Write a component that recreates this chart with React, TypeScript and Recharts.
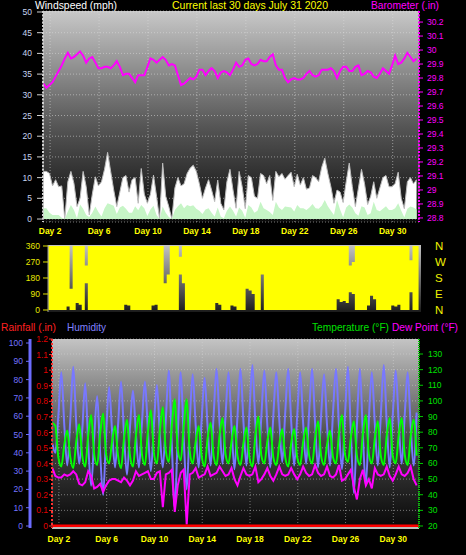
import React from "react";
import { ComposedChart, Area, Line, XAxis, YAxis, CartesianGrid } from "recharts";

// samples every 6 hours, starting Jul 1 ~11:00
const START = 1.45;
const STEP = 0.25;

const dayTicks = [2, 6, 10, 14, 18, 22, 26, 30];
const windTicks = [0, 5, 10, 15, 20, 25, 30, 35, 40, 45, 50];
const baroTicks = [28.8, 28.9, 29, 29.1, 29.2, 29.3, 29.4, 29.5, 29.6, 29.7, 29.8, 29.9, 30, 30.1, 30.2];
const dirTicks = [0, 90, 180, 270, 360];
const dirLetters = ["N", "E", "S", "W", "N"];
const humTicks = [0, 10, 20, 30, 40, 50, 60, 70, 80, 90, 100];
const rainTicks = [0, 0.1, 0.2, 0.3, 0.4, 0.5, 0.6, 0.7, 0.8, 0.9, 1, 1.1, 1.2];
const tempTicks = [20, 30, 40, 50, 60, 70, 80, 90, 100, 110, 120, 130];

const baro = [
  29.76, 29.73, 29.75, 29.77, 29.81, 29.85, 29.89, 29.94, 29.98, 29.94,
  29.95, 29.97, 29.99, 29.96, 29.91, 29.94, 29.95, 29.91, 29.87, 29.87,
  29.88, 29.88, 29.87, 29.89, 29.92, 29.88, 29.82, 29.83, 29.83, 29.8,
  29.77, 29.82, 29.82, 29.82, 29.88, 29.94, 29.93, 29.91, 29.93, 29.95,
  29.93, 29.89, 29.9, 29.89, 29.82, 29.75, 29.76, 29.78, 29.8, 29.79,
  29.81, 29.86, 29.86, 29.82, 29.85, 29.87, 29.85, 29.8, 29.84, 29.85,
  29.84, 29.82, 29.86, 29.91, 29.88, 29.89, 29.93, 29.94, 29.9, 29.89,
  29.9, 29.93, 29.92, 29.92, 29.95, 29.97, 29.89, 29.86, 29.86, 29.8,
  29.77, 29.79, 29.8, 29.79, 29.79, 29.8, 29.83, 29.85, 29.82, 29.81,
  29.82, 29.86, 29.86, 29.86, 29.87, 29.85, 29.8, 29.85, 29.88, 29.88,
  29.85, 29.85, 29.88, 29.89, 29.82, 29.83, 29.85, 29.84, 29.81, 29.8,
  29.83, 29.87, 29.85, 29.83, 29.89, 29.96, 29.9, 29.91, 29.94, 29.98,
  29.95, 29.92, 29.94,
];

const windGust = [
  11.5, 11.5, 11.0, 8.0, 9.5, 7.8, 8.0, 0, 9.0, 11.5,
  8.6, 3.0, 5.0, 11.5, 7.8, 1.0, 6.0, 10.2, 8.0, 9.0,
  12.0, 16.1, 11.5, 7.0, 3.0, 6.5, 10.0, 10.5, 6.5, 9.5,
  10.0, 3.8, 12.2, 6.0, 3.8, 6.0, 10.6, 5.5, 0, 13.5,
  5.5, 3.0, 0, 7.5, 10.0, 8.0, 8.5, 11.0, 12.3, 13.0,
  11.5, 8.5, 5.0, 7.5, 9.5, 7.0, 4.2, 9.4, 3.8, 2.2,
  9.0, 12.0, 7.0, 2.6, 11.5, 7.8, 2.5, 10.5, 10.0, 5.5,
  5.0, 11.0, 10.5, 8.5, 10.5, 4.5, 11.5, 10.2, 11.0, 9.6,
  10.5, 11.3, 7.8, 10.8, 8.2, 10.0, 7.2, 7.5, 10.5, 10.0,
  9.0, 12.5, 14.7, 11.0, 7.8, 3.8, 7.0, 6.5, 4.0, 9.0,
  13.5, 7.8, 3.0, 7.5, 12.0, 8.5, 3.5, 5.5, 9.0, 5.0,
  7.5, 10.0, 10.5, 7.8, 7.8, 8.6, 11.3, 5.0, 2.5, 9.0,
  10.0, 8.5, 9.5,
];

const windAvg = [
  2.6, 2.6, 1.5, 1.0, 1.0, 1.0, 0.3, 0, 1.8, 3.4,
  2.2, 0.2, 3.5, 2.5, 1.0, 0.5, 1.5, 3.0, 1.7, 0.6,
  2.6, 3.8, 3.5, 3.2, 1.2, 2.8, 3.2, 2.5, 1.5, 1.5,
  3.1, 2.1, 3.4, 2.6, 0.7, 2.3, 3.2, 1.0, 0, 3.0,
  1.5, 0.5, 0, 2.2, 3.1, 3.8, 2.6, 3.4, 3.1, 3.3,
  2.5, 2.0, 1.2, 2.3, 2.6, 1.5, 0.6, 2.8, 0.6, 0.2,
  2.0, 3.0, 2.0, 0.6, 2.8, 2.0, 0.3, 3.4, 2.8, 1.5,
  2.0, 4.2, 2.6, 2.2, 1.7, 1.0, 4.2, 2.8, 2.2, 3.0,
  2.9, 2.8, 1.8, 3.4, 2.6, 2.6, 2.2, 2.8, 3.6, 2.6,
  2.5, 3.2, 4.6, 3.1, 2.0, 1.0, 4.6, 2.3, 0.4, 2.8,
  3.5, 2.8, 1.4, 0.8, 3.1, 2.8, 1.0, 1.4, 4.2, 2.2,
  1.9, 2.5, 3.1, 2.2, 2.2, 2.6, 3.8, 2.0, 0.4, 2.5,
  3.0, 2.8, 2.3,
];

// spread of wind direction readings in each 6 h slot
const dirLow = [
  0, 0, 0, 0, 0, 0, 20, 0, 0, 40,
  30, 0, 150, 0, 0, 0, 0, 0, 0, 0,
  0, 0, 0, 0, 0, 30, 25, 0, 0, 0,
  0, 0, 0, 0, 25, 30, 0, 0, 0, 0,
  0, 0, 0, 200, 150, 0, 0, 0, 0, 0,
  0, 0, 0, 0, 0, 40, 30, 0, 0, 0,
  25, 20, 0, 0, 0, 120, 110, 90, 0, 0,
  200, 0, 0, 0, 0, 0, 0, 0, 0, 0,
  0, 0, 0, 0, 0, 0, 0, 0, 0, 0,
  0, 0, 0, 0, 0, 60, 45, 50, 40, 100,
  90, 0, 0, 0, 0, 25, 80, 60, 0, 0,
  0, 0, 0, 25, 20, 30, 0, 0, 0, 100,
  0, 0, 0,
];
const dirHigh = [
  360, 360, 360, 360, 360, 360, 360, 120, 360, 360,
  360, 360, 250, 360, 360, 360, 360, 360, 360, 360,
  360, 360, 360, 360, 360, 360, 360, 360, 360, 360,
  360, 360, 360, 360, 360, 360, 360, 360, 150, 200,
  360, 360, 360, 300, 360, 360, 360, 360, 360, 360,
  360, 360, 360, 360, 360, 360, 360, 360, 360, 360,
  360, 360, 360, 360, 360, 360, 360, 360, 360, 360,
  360, 360, 360, 360, 360, 360, 360, 360, 360, 360,
  360, 360, 360, 360, 360, 360, 360, 360, 360, 360,
  360, 360, 360, 360, 360, 360, 360, 360, 360, 250,
  270, 360, 360, 360, 360, 360, 360, 360, 360, 360,
  360, 360, 360, 360, 360, 360, 360, 360, 360, 280,
  360, 360, 360,
];

const humidity = [
  45, 40, 60, 84, 55, 33, 58, 87, 56, 34,
  52, 78, 45, 22, 48, 71, 40, 17, 50, 76,
  52, 32, 55, 79, 50, 28, 54, 74, 50, 32,
  56, 79, 52, 30, 55, 77, 50, 32, 58, 85,
  45, 10, 50, 84, 48, 20, 56, 83, 55, 32,
  58, 81, 54, 33, 60, 86, 56, 34, 60, 84,
  55, 31, 60, 86, 57, 33, 62, 88, 56, 34,
  60, 85, 55, 32, 60, 84, 58, 35, 62, 86,
  57, 33, 60, 84, 56, 34, 62, 86, 56, 32,
  60, 83, 55, 33, 62, 86, 54, 31, 60, 87,
  50, 18, 55, 86, 50, 22, 58, 84, 56, 33,
  60, 88, 56, 32, 60, 85, 57, 34, 60, 84,
  55, 33, 62,
];

const temperature = [
  86, 84, 64, 58, 72, 81, 64, 57, 74, 85,
  65, 58, 78, 91, 66, 59, 79, 92, 66, 60,
  74, 84, 65, 57, 76, 88, 65, 58, 78, 91,
  66, 59, 80, 94, 67, 60, 81, 96, 68, 61,
  84, 101, 69, 62, 84, 101, 68, 60, 74, 84,
  65, 58, 76, 86, 65, 59, 78, 89, 66, 60,
  74, 84, 65, 59, 73, 83, 64, 58, 78, 90,
  65, 60, 74, 83, 64, 59, 72, 82, 64, 58,
  73, 82, 64, 59, 74, 83, 65, 60, 76, 87,
  65, 59, 72, 81, 64, 60, 79, 91, 66, 61,
  77, 87, 65, 59, 79, 91, 66, 60, 76, 87,
  65, 59, 78, 89, 65, 60, 78, 89, 66, 59,
  77, 88, 65,
];

const dewPoint = [
  57, 52, 51, 51, 53, 52, 53, 55, 53, 47,
  46, 48, 55, 52, 44, 45, 47, 42, 46, 49,
  50, 50, 49, 48, 51, 49, 46, 49, 55, 52,
  53, 54, 55, 50, 50, 54, 55, 32, 53, 54,
  56, 29, 46, 54, 56, 21, 53, 54, 57, 51,
  52, 53, 58, 52, 53, 54, 58, 55, 52, 53,
  57, 50, 46, 52, 57, 53, 52, 53, 58, 48,
  50, 53, 57, 52, 49, 53, 58, 53, 52, 53,
  57, 53, 50, 53, 58, 54, 52, 53, 59, 54,
  52, 53, 58, 52, 51, 53, 59, 49, 50, 53,
  56, 45, 37, 50, 56, 46, 50, 44, 57, 53,
  52, 53, 58, 52, 49, 53, 58, 53, 52, 54,
  58, 50, 46,
];

// daily rain totals, Jul 1 .. Aug 1
const rainfall = [
  0, 0, 0, 0, 0, 0, 0, 0, 0, 0, 0, 0, 0, 0, 0, 0,
  0, 0, 0, 0, 0, 0, 0, 0, 0, 0, 0, 0, 0, 0, 0, 0,
];

const topRows = baro.map((b, i) => ({
  t: START + STEP * i,
  baro: b,
  gust: windGust[i],
  avg: windAvg[i],
}));
const dirRows = dirLow.map((lo, i) => ({ t: START + STEP * i, dir: [lo, dirHigh[i]] }));
const bottomRows = humidity.map((h, i) => ({
  t: START + STEP * i,
  hum: h,
  temp: temperature[i],
  dew: dewPoint[i],
}));
const rainRows = rainfall.map((r, i) => ({ t: START + i, rain: r }));

const X_DOMAIN: [number, number] = [1.42, 32.15];
const FONT = "'Liberation Sans', Arial, sans-serif";
const dayTick = { fill: "#ffff00", fontSize: 8.5, fontFamily: FONT, fontWeight: "bold" as const };
const fmt1 = (v: number) => String(Math.round(v * 10) / 10);

// ids sorted so the rain axis sits next to the plot and humidity outside it
const RAIN_AXIS = "l1rain";
const HUM_AXIS = "l2hum";

export default function App() {
  return (
    <div
      style={{
        position: "fixed",
        left: 0,
        top: 0,
        width: 466,
        height: 555,
        background: "#000",
        overflow: "hidden",
      }}
    >
      {/* wind + barometer */}
      <div style={{ position: "absolute", left: 0, top: 0 }}>
        <ComposedChart width={466} height={245} data={topRows} margin={{ top: 11, right: 0, bottom: 0, left: 0 }}>
          <defs>
            <linearGradient id="bgTop" x1="0" y1="0" x2="0" y2="1">
              <stop offset="0%" stopColor="#c8c8c8" />
              <stop offset="55%" stopColor="#555555" />
              <stop offset="100%" stopColor="#0a0a0a" />
            </linearGradient>
          </defs>
          <CartesianGrid
            yAxisId="wind"
            fill="url(#bgTop)"
            fillOpacity={1}
            stroke="#dcdcdc"
            strokeOpacity={0.55}
            strokeDasharray="1 2"
          />
          <XAxis
            type="number"
            dataKey="t"
            domain={X_DOMAIN}
            ticks={dayTicks}
            interval={0}
            allowDataOverflow
            height={23}
            tickSize={0}
            tickMargin={6}
            axisLine={false}
            tick={dayTick}
            tickFormatter={(d) => `Day ${d}`}
          />
          <YAxis
            yAxisId="wind"
            domain={[-0.72, 50.24]}
            ticks={windTicks}
            interval={0}
            allowDataOverflow
            width={43}
            tickSize={6}
            tickMargin={5}
            axisLine={{ stroke: "#d0d0d0", strokeWidth: 2, strokeDasharray: "2 1.5" }}
            tickLine={{ stroke: "#d0d0d0" }}
            tick={{ fill: "#c8d4f0", fontSize: 8.5, fontFamily: FONT }}
          />
          <YAxis
            yAxisId="baro"
            orientation="right"
            domain={[28.771, 30.279]}
            ticks={baroTicks}
            interval={0}
            allowDataOverflow
            width={47}
            tickSize={4}
            tickMargin={4}
            axisLine={{ stroke: "#ff00ff", strokeWidth: 2, strokeDasharray: "2 1.5" }}
            tickLine={{ stroke: "#ff00ff" }}
            tick={{ fill: "#ff00ff", fontSize: 8.5, fontFamily: FONT }}
            tickFormatter={fmt1}
          />
          <Area
            yAxisId="wind"
            type="linear"
            dataKey="gust"
            fill="#ffffff"
            fillOpacity={1}
            stroke="#bdbdbd"
            strokeWidth={1}
            isAnimationActive={false}
          />
          <Area
            yAxisId="wind"
            type="linear"
            dataKey="avg"
            fill="#c6f5c6"
            fillOpacity={1}
            stroke="none"
            isAnimationActive={false}
          />
          <Line
            yAxisId="baro"
            type="linear"
            dataKey="baro"
            stroke="#ff00ff"
            strokeWidth={2}
            dot={false}
            isAnimationActive={false}
          />
        </ComposedChart>
      </div>

      {/* wind direction */}
      <div style={{ position: "absolute", left: 0, top: 240 }}>
        <ComposedChart width={466} height={82} data={dirRows} margin={{ top: 5, right: 0, bottom: 10, left: 0 }}>
          <defs>
            <linearGradient id="bgDir" x1="0" y1="0" x2="0" y2="1">
              <stop offset="0%" stopColor="#c4c4c4" />
              <stop offset="100%" stopColor="#1c1c1c" />
            </linearGradient>
          </defs>
          <CartesianGrid yAxisId="dir" fill="url(#bgDir)" fillOpacity={1} horizontal={false} vertical={false} />
          <XAxis type="number" dataKey="t" domain={X_DOMAIN} allowDataOverflow hide />
          <YAxis
            yAxisId="dir"
            domain={[-11.25, 365.6]}
            ticks={dirTicks}
            interval={0}
            allowDataOverflow
            width={48}
            tickSize={5}
            tickMargin={3}
            axisLine={{ stroke: "#9a9a9a" }}
            tickLine={{ stroke: "#e0e000" }}
            tick={{ fill: "#e8e800", fontSize: 8.5, fontFamily: FONT }}
          />
          <YAxis
            yAxisId="dirR"
            orientation="right"
            domain={[-11.25, 365.6]}
            ticks={dirTicks}
            interval={0}
            allowDataOverflow
            width={45}
            tickSize={0}
            tickMargin={14}
            axisLine={false}
            tick={{ fill: "#f0f000", fontSize: 11.5, fontFamily: FONT }}
            tickFormatter={(v) => dirLetters[dirTicks.indexOf(v)]}
          />
          <Area
            yAxisId="dir"
            type="stepAfter"
            dataKey="dir"
            fill="#ffff00"
            fillOpacity={1}
            stroke="none"
            isAnimationActive={false}
          />
        </ComposedChart>
      </div>

      {/* rain, humidity, temperature, dew point */}
      <div style={{ position: "absolute", left: 0, top: 330 }}>
        <ComposedChart width={466} height={223} data={bottomRows} margin={{ top: 9, right: 0, bottom: 0, left: 0 }}>
          <defs>
            <linearGradient id="bgBot" x1="0" y1="0" x2="0" y2="1">
              <stop offset="0%" stopColor="#c4c4c4" />
              <stop offset="55%" stopColor="#444444" />
              <stop offset="100%" stopColor="#080808" />
            </linearGradient>
          </defs>
          <CartesianGrid
            yAxisId="temp"
            fill="url(#bgBot)"
            fillOpacity={1}
            stroke="#d8d8d8"
            strokeOpacity={0.5}
            strokeDasharray="1 2"
          />
          <XAxis
            type="number"
            dataKey="t"
            domain={X_DOMAIN}
            ticks={dayTicks}
            interval={0}
            allowDataOverflow
            height={25}
            tickSize={0}
            tickMargin={8}
            axisLine={{ stroke: "#bdbdbd", strokeWidth: 2 }}
            tick={dayTick}
            tickFormatter={(d) => `Day ${d}`}
          />
          <YAxis
            yAxisId={RAIN_AXIS}
            domain={[-0.0128, 1.2]}
            ticks={rainTicks}
            interval={0}
            allowDataOverflow
            width={22}
            tickSize={3}
            tickMargin={1}
            axisLine={{ stroke: "#ff3030", strokeWidth: 2, strokeDasharray: "2 2" }}
            tickLine={{ stroke: "#ff3030" }}
            tick={{ fill: "#e00000", fontSize: 8.5, fontFamily: FONT }}
            tickFormatter={fmt1}
          />
          <YAxis
            yAxisId={HUM_AXIS}
            domain={[-1.09, 102.2]}
            ticks={humTicks}
            interval={0}
            allowDataOverflow
            width={30}
            tickSize={4}
            tickMargin={3}
            axisLine={{ stroke: "#6c6cff", strokeWidth: 3 }}
            tickLine={{ stroke: "#6c6cff" }}
            tick={{ fill: "#7474ff", fontSize: 8.5, fontFamily: FONT }}
          />
          <YAxis
            yAxisId="temp"
            orientation="right"
            domain={[18.72, 139.6]}
            ticks={tempTicks}
            interval={0}
            allowDataOverflow
            width={47}
            tickSize={4}
            tickMargin={5}
            axisLine={{ stroke: "#00c800", strokeWidth: 2, strokeDasharray: "1 1" }}
            tickLine={{ stroke: "#00c800" }}
            tick={{ fill: "#00e000", fontSize: 8.5, fontFamily: FONT }}
          />
          <Line
            yAxisId={HUM_AXIS}
            type="monotone"
            dataKey="hum"
            stroke="#7878ff"
            strokeWidth={2}
            dot={false}
            isAnimationActive={false}
          />
          <Line
            yAxisId="temp"
            type="monotone"
            dataKey="temp"
            stroke="#00ff00"
            strokeWidth={2}
            dot={false}
            isAnimationActive={false}
          />
          <Line
            yAxisId="temp"
            type="linear"
            dataKey="dew"
            stroke="#ff00ff"
            strokeWidth={2}
            dot={false}
            isAnimationActive={false}
          />
          <Line
            yAxisId={RAIN_AXIS}
            data={rainRows}
            type="linear"
            dataKey="rain"
            stroke="#ff0000"
            strokeWidth={3}
            dot={false}
            isAnimationActive={false}
          />
        </ComposedChart>
      </div>

      {/* titles and legend text */}
      <svg
        width={466}
        height={555}
        style={{ position: "absolute", left: 0, top: 0, pointerEvents: "none" }}
        fontFamily={FONT}
        fontSize={11.5}
      >
        <text x={35} y={9} fill="#ffffff" textLength={82} lengthAdjust="spacingAndGlyphs">
          Windspeed (mph)
        </text>
        <text x={172} y={9} fill="#ffff00" textLength={156} lengthAdjust="spacingAndGlyphs">
          Current last 30 days July 31 2020
        </text>
        <text x={371} y={9} fill="#ff00ff" textLength={68} lengthAdjust="spacingAndGlyphs">
          Barometer (.in)
        </text>
        <text x={1} y={331} fill="#ff2020" textLength={55} lengthAdjust="spacingAndGlyphs">
          Rainfall (.in)
        </text>
        <text x={67} y={331} fill="#8080ff" textLength={39} lengthAdjust="spacingAndGlyphs">
          Humidity
        </text>
        <text x={312} y={331} fill="#00e000" textLength={77} lengthAdjust="spacingAndGlyphs">
          Temperature (°F)
        </text>
        <text x={392} y={331} fill="#ff00ff" textLength={66} lengthAdjust="spacingAndGlyphs">
          Dew Point (°F)
        </text>
      </svg>
    </div>
  );
}
